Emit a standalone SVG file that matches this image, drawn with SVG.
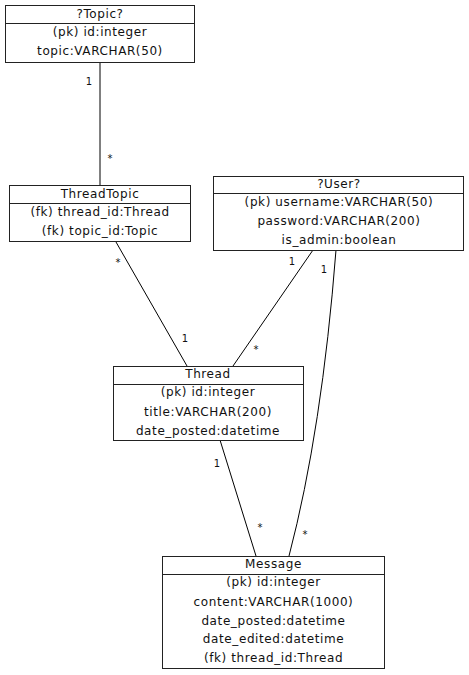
<svg xmlns="http://www.w3.org/2000/svg" width="469" height="675" viewBox="0 0 469 675">
<style>
.box{fill:#fff;stroke:#222;stroke-width:1}
.div{stroke:#222;stroke-width:1}
.t{font-family:"DejaVu Sans",Verdana,sans-serif;font-size:12px;fill:#111;text-anchor:middle;letter-spacing:0.6px}
.e{fill:none;stroke:#000;stroke-width:1}
.l{font-family:"DejaVu Sans",Verdana,sans-serif;font-size:10px;fill:#111;text-anchor:middle}
</style>
<rect width="469" height="675" fill="#fff"/>
<g id="connectors">
<line class="e" x1="100" y1="62" x2="100" y2="185"/>
<text class="l" x="89" y="85">1</text>
<text class="l" x="110" y="162">*</text>
<line class="e" x1="116" y1="242" x2="187" y2="366"/>
<text class="l" x="118" y="266">*</text>
<text class="l" x="185" y="342">1</text>
<line class="e" x1="313" y1="250" x2="233" y2="366"/>
<text class="l" x="292" y="265">1</text>
<text class="l" x="256" y="353">*</text>
<path class="e" d="M336,250 Q322,430 289,556"/>
<text class="l" x="324" y="273">1</text>
<text class="l" x="305" y="538">*</text>
<line class="e" x1="220" y1="440" x2="256" y2="556"/>
<text class="l" x="217" y="467">1</text>
<text class="l" x="260" y="531">*</text>
</g>
<g id="Topic">
<rect class="box" x="5.5" y="5.5" width="189" height="57"/>
<line class="div" x1="5.5" y1="23.5" x2="194.5" y2="23.5"/>
<text class="t" x="100" y="18">?Topic?</text>
<text class="t" x="100" y="36">(pk) id:integer</text>
<text class="t" x="100" y="55">topic:VARCHAR(50)</text>
</g>
<g id="ThreadTopic">
<rect class="box" x="9.5" y="185.5" width="181" height="56"/>
<line class="div" x1="9.5" y1="203.5" x2="190.5" y2="203.5"/>
<text class="t" x="100" y="198">ThreadTopic</text>
<text class="t" x="100" y="216">(fk) thread_id:Thread</text>
<text class="t" x="100" y="235">(fk) topic_id:Topic</text>
</g>
<g id="User">
<rect class="box" x="213.5" y="176.5" width="250" height="74"/>
<line class="div" x1="213.5" y1="193.5" x2="463.5" y2="193.5"/>
<text class="t" x="339" y="188">?User?</text>
<text class="t" x="339" y="206">(pk) username:VARCHAR(50)</text>
<text class="t" x="339" y="225">password:VARCHAR(200)</text>
<text class="t" x="339" y="244">is_admin:boolean</text>
</g>
<g id="Thread">
<rect class="box" x="113.5" y="366.5" width="190" height="74"/>
<line class="div" x1="113.5" y1="384.5" x2="303.5" y2="384.5"/>
<text class="t" x="208" y="378">Thread</text>
<text class="t" x="208" y="396">(pk) id:integer</text>
<text class="t" x="208" y="416">title:VARCHAR(200)</text>
<text class="t" x="208" y="435">date_posted:datetime</text>
</g>
<g id="Message">
<rect class="box" x="162.5" y="556.5" width="222" height="112"/>
<line class="div" x1="162.5" y1="574.5" x2="384.5" y2="574.5"/>
<text class="t" x="273.5" y="568">Message</text>
<text class="t" x="273.5" y="586">(pk) id:integer</text>
<text class="t" x="273.5" y="606">content:VARCHAR(1000)</text>
<text class="t" x="273.5" y="625">date_posted:datetime</text>
<text class="t" x="273.5" y="643">date_edited:datetime</text>
<text class="t" x="273.5" y="662">(fk) thread_id:Thread</text>
</g>
</svg>
